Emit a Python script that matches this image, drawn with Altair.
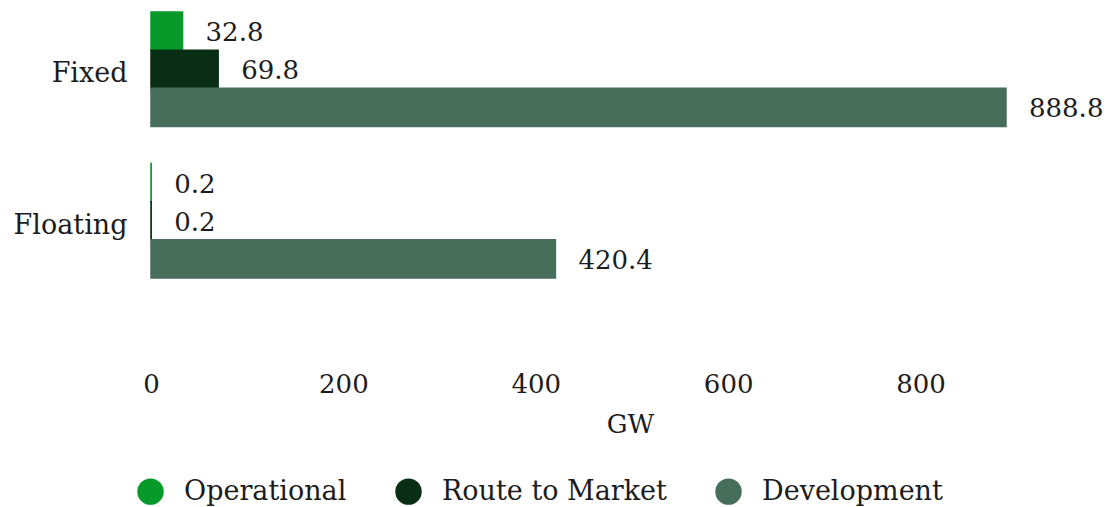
import altair as alt
import pandas as pd

categories = ["Fixed", "Floating"]
series = ["Operational", "Route to Market", "Development"]
operational = [32.8, 0.2]
route_to_market = [69.8, 0.2]
development = [888.8, 420.4]
colors = ["#079A2B", "#0A2D15", "#466E5B"]
x_ticks = [0, 200, 400, 600, 800]

rows = []
for i, c in enumerate(categories):
    for s, vals in zip(series, [operational, route_to_market, development]):
        rows.append({"Category": c, "Series": s, "GW": vals[i]})
df = pd.DataFrame(rows)

FONT = "DejaVu Serif"
TXT = "#1c1c1c"

y_enc = alt.Y("Category:N", sort=categories, title=None,
              scale=alt.Scale(paddingInner=0.245, paddingOuter=0),
              axis=alt.Axis(labelFont=FONT, labelFontSize=27, labelColor=TXT,
                            ticks=False, domain=False, labelPadding=24,
                            labelOffset=5))
yoff = alt.YOffset("Series:N", sort=series,
                   scale=alt.Scale(domain=series, paddingInner=0, paddingOuter=0))
x_enc = alt.X("GW:Q", title="GW",
              scale=alt.Scale(domain=[0, 920], nice=False),
              axis=alt.Axis(values=x_ticks, grid=False, domain=False, ticks=False,
                            labelFlush=False,
                            labelFont=FONT, labelFontSize=26, labelColor=TXT,
                            labelPadding=2, offset=91,
                            titleFont=FONT, titleFontSize=26, titleColor=TXT,
                            titleFontWeight="normal", titlePadding=14,
                            titleX=479))

color_scale = alt.Scale(domain=series, range=colors)

bars = alt.Chart(df).mark_bar(strokeWidth=1.5).encode(
    x=x_enc,
    y=y_enc,
    yOffset=yoff,
    color=alt.Color("Series:N", sort=series, scale=color_scale,
                    legend=alt.Legend(title=None, orient="none", direction="horizontal",
                                      legendX=-14, legendY=466,
                                      symbolType="circle", symbolSize=700,
                                      symbolStrokeWidth=0, symbolOpacity=1,
                                      labelFont=FONT, labelFontSize=27, labelColor=TXT,
                                      labelLimit=0, labelOffset=20, columnPadding=48)),
    stroke=alt.Stroke("Series:N", sort=series, scale=color_scale, legend=None),
)

labels = alt.Chart(df).mark_text(align="left", baseline="middle", dx=23, dy=2,
                                 font=FONT, fontSize=26, color=TXT).encode(
    x=alt.X("GW:Q"),
    y=alt.Y("Category:N", sort=categories),
    yOffset=yoff,
    text=alt.Text("GW:Q", format=".1f"),
)

chart = (bars + labels).properties(
    width=885, height=266,
    autosize=alt.AutoSizeParams(type="none"),
    padding={"left": 143, "top": 4, "right": 67, "bottom": 229},
).configure_view(stroke=None)

chart.save("out.html", embed_options={"renderer": "svg", "actions": False})
